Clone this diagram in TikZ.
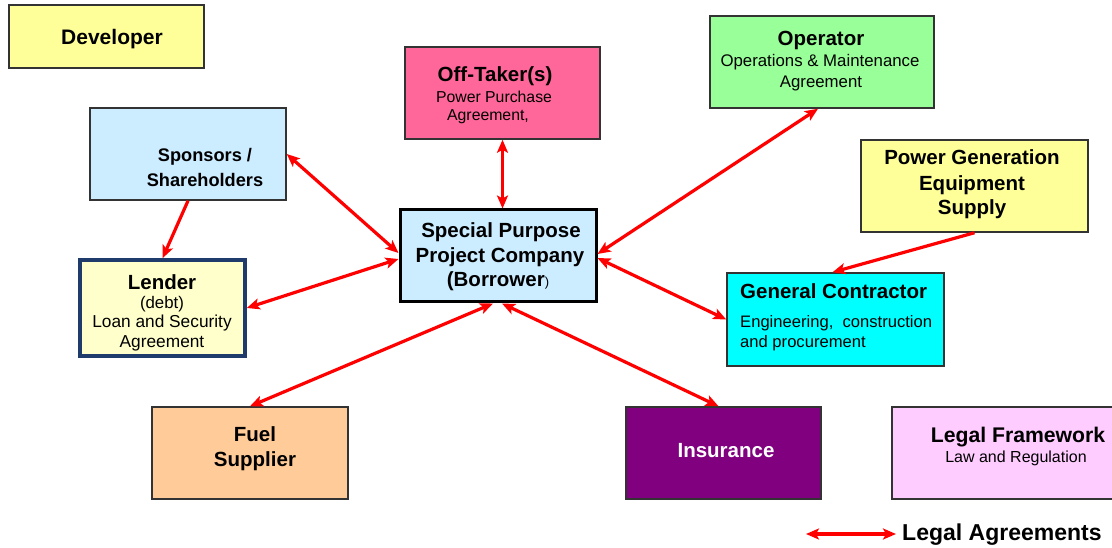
\documentclass[tikz,border=0pt]{standalone}
\usepackage{fontspec}
\setmainfont{Liberation Sans}
\usetikzlibrary{arrows.meta}
\definecolor{cyel}{HTML}{FFFF99}
\definecolor{cblue}{HTML}{CCECFF}
\definecolor{cpink}{HTML}{FF6699}
\definecolor{cgreen}{HTML}{99FF99}
\definecolor{cpale}{HTML}{FFFFCC}
\definecolor{ccyan}{HTML}{00FFFF}
\definecolor{corange}{HTML}{FFCC99}
\definecolor{cpurple}{HTML}{800080}
\definecolor{clilac}{HTML}{FFCCFF}
\definecolor{cnavy}{HTML}{1F3B6B}
\definecolor{cedge}{HTML}{333333}
\begin{document}
\begin{tikzpicture}[x=1pt,y=-1pt,
  box/.style={draw=cedge,line width=1.5pt,inner sep=0pt,rectangle},
  ln/.style={inner sep=0pt,text height=0.72em,text depth=0pt,anchor=center},
  tA/.style={ln,font=\fontsize{20.5}{24}\selectfont\bfseries},
  tB/.style={ln,font=\fontsize{18.2}{21}\selectfont\bfseries},
  sA/.style={ln,font=\fontsize{16.8}{19}\selectfont},
  sB/.style={ln,font=\fontsize{15.8}{18}\selectfont},
  link/.style={draw=red,line width=3.2pt,{Stealth[length=13pt,width=11pt,inset=3pt]}-{Stealth[length=13pt,width=11pt,inset=3pt]}},
  onelink/.style={draw=red,line width=3.2pt,-{Stealth[length=13pt,width=11pt,inset=3pt]}}]
\useasboundingbox (0,0) rectangle (1112,548);
% boxes
\node[box,fill=cyel,minimum width=195pt,minimum height=63pt] (dev) at (106.5,36.5) {};
\node[box,fill=cblue,minimum width=196pt,minimum height=92pt] (spons) at (188,154) {};
\node[box,fill=cpink,minimum width=195pt,minimum height=92pt] (off) at (502.5,93) {};
\node[box,fill=cgreen,minimum width=224pt,minimum height=92pt] (oper) at (822,62) {};
\node[box,fill=cyel,minimum width=227pt,minimum height=92pt] (pgen) at (974.5,186) {};
\node[box,draw=black,line width=3pt,fill=cblue,minimum width=196pt,minimum height=92pt] (spv) at (498,256) {};
\node[box,draw=cnavy,line width=3.5pt,fill=cpale,minimum width=165pt,minimum height=96pt] (lend) at (162.5,308) {};
\node[box,fill=ccyan,minimum width=217pt,minimum height=93pt] (gc) at (835.5,319.5) {};
\node[box,fill=corange,minimum width=196pt,minimum height=92pt] (fuel) at (250,453) {};
\node[box,fill=cpurple,minimum width=195pt,minimum height=92pt] (ins) at (723.5,453) {};
\node[box,fill=clilac,minimum width=224pt,minimum height=92pt] (legal) at (1004,453) {};
% texts
\node[tA,font=\fontsize{21}{24}\selectfont\bfseries] (devT) at (112,41) {Developer};
\node[tB] (sponsT1) at (205,158) {Sponsors /};
\node[tB] (sponsT2) at (205,183) {Shareholders};
\node[tA] (offT1) at (495,78) {Off-Taker(s)};
\node[sB] (offT2) at (494,99) {Power Purchase};
\node[sB] (offT3) at (488,117) {Agreement,};
\node[tA] (operT1) at (821,42) {Operator};
\node[sA] (operT2) at (820,63) {Operations \& Maintenance};
\node[sA] (operT3) at (821,84) {Agreement};
\node[tA] (pgenT1) at (972,161) {Power Generation};
\node[tA] (pgenT2) at (972,187) {Equipment};
\node[tA] (pgenT3) at (972,211) {Supply};
\node[tA] (spvT1) at (501,234) {Special Purpose};
\node[tA] (spvT2) at (500,259) {Project Company};
\node[tA] (spvT3) at (498,283) {(Borrower{\fontsize{13}{14}\selectfont\mdseries)}};
\node[tA] (lendT1) at (162,286) {Lender};
\node[sA] (lendT2) at (162,305) {(debt)};
\node[sA,font=\fontsize{17.3}{19}\selectfont] (lendT3) at (162,324) {Loan and Security};
\node[sA,font=\fontsize{17.3}{19}\selectfont] (lendT4) at (162,344) {Agreement};
\node[tA,anchor=west] (gcT1) at (740,295) {General Contractor};
\node[sA,font=\fontsize{16.6}{19}\selectfont,anchor=west] (gcT2) at (740,324) {Engineering,\ \ construction};
\node[sA,font=\fontsize{16.6}{19}\selectfont,anchor=west] (gcT3) at (740,344) {and procurement};
\node[tA] (fuelT1) at (255,438) {Fuel};
\node[tA] (fuelT2) at (255,463) {Supplier};
\node[tA,text=white] (insT) at (726,454) {Insurance};
\node[tA,font=\fontsize{21.2}{24}\selectfont\bfseries] (legalT1) at (1018,439) {Legal Framework};
\node[sB,font=\fontsize{16}{18}\selectfont] (legalT2) at (1016,459) {Law and Regulation};
% connectors
\draw[link] (spons.east) -- ([yshift=3pt]spv.west);
\draw[link] (lend.east) -- ([yshift=-3pt]spv.west);
\draw[onelink] (spons.south) -- (lend.north);
\draw[link] (off.south) -- (off.south |- spv.north);
\draw[link] ([yshift=2pt]spv.east) -- ([xshift=-4pt]oper.south);
\draw[link] ([yshift=-2pt]spv.east) -- (gc.west);
\draw[onelink] (pgen.south) -- ([xshift=-3pt]gc.north);
\draw[link] ([xshift=-5pt]spv.south) -- (fuel.north);
\draw[link] ([xshift=4pt]spv.south) -- ([xshift=-5pt]ins.north);
% legend
\coordinate (legA) at (806,534);
\coordinate (legB) at (896,534);
\draw[link] (legA) -- (legB);
\node[tA,font=\fontsize{23}{26}\selectfont\bfseries,anchor=west] (legT) at (902,537) {Legal Agreements};
\end{tikzpicture}
\end{document}
